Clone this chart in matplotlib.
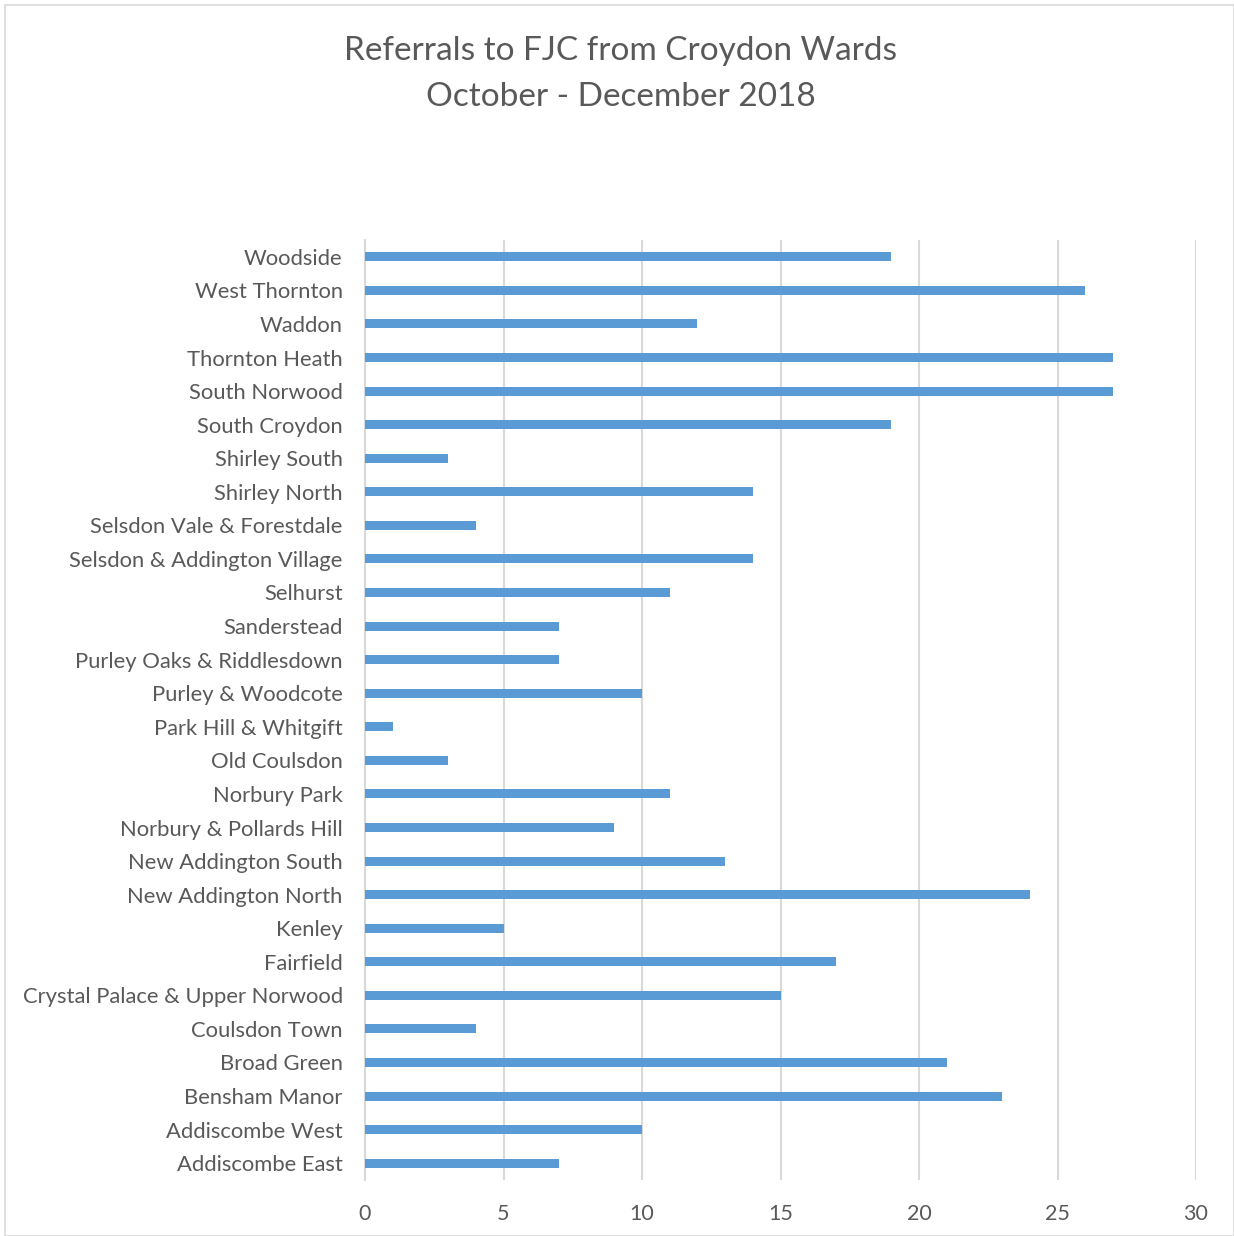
import matplotlib
matplotlib.use("Agg")
import matplotlib.pyplot as plt
from matplotlib.patches import Rectangle

plt.rcParams['font.family'] = ['Lato', 'DejaVu Sans']

wards = ["Woodside", "West Thornton", "Waddon", "Thornton Heath", "South Norwood",
         "South Croydon", "Shirley South", "Shirley North", "Selsdon Vale & Forestdale",
         "Selsdon & Addington Village", "Selhurst", "Sanderstead",
         "Purley Oaks & Riddlesdown", "Purley & Woodcote", "Park Hill & Whitgift",
         "Old Coulsdon", "Norbury Park", "Norbury & Pollards Hill", "New Addington South",
         "New Addington North", "Kenley", "Fairfield", "Crystal Palace & Upper Norwood",
         "Coulsdon Town", "Broad Green", "Bensham Manor", "Addiscombe West",
         "Addiscombe East"]
referrals = [19, 26, 12, 27, 27, 19, 3, 14, 4, 14, 11, 7, 7, 10, 1, 3, 11, 9, 13, 24,
             5, 17, 15, 4, 21, 23, 10, 7]
xticks = [0, 5, 10, 15, 20, 25, 30]

W, H = 1234, 1236
fig = plt.figure(figsize=(W / 100, H / 100), dpi=100)
ax = fig.add_axes([365 / W, 1 - 1180 / H, (1196 - 365) / W, (1180 - 240) / H])

n = len(wards)
ypos = list(range(n - 1, -1, -1))
ax.barh(ypos, referrals, height=0.27, color="#5B9BD5", zorder=3)
ax.set_ylim(-0.5, n - 0.5)
ax.set_xlim(0, 30)
ax.set_xticks(xticks)
ax.set_yticks(ypos)
ax.set_yticklabels(wards)
ax.tick_params(axis='y', length=0, pad=16, labelsize=15.8, labelcolor="#595959")
ax.tick_params(axis='x', length=0, pad=17, labelsize=15.5, labelcolor="#595959")
ax.grid(axis='x', color="#D9D9D9", linewidth=1.5, zorder=0)
for s in ["top", "right", "bottom"]:
    ax.spines[s].set_visible(False)
ax.spines["left"].set_color("#D9D9D9")
ax.spines["left"].set_linewidth(1.5)

fig.text(0.503, 1 - 51 / H, "Referrals to FJC from Croydon Wards", ha="center", va="center",
         fontsize=24, color="#595959")
fig.text(0.503, 1 - 97 / H, "October - December 2018", ha="center", va="center",
         fontsize=24, color="#595959")

fig.patches.append(Rectangle((5 / W, 0), 1 - 5 / W, 1 - 5 / H, transform=fig.transFigure,
                             fill=False, edgecolor="#D9D9D9", linewidth=1.2))

fig.savefig("out.png", dpi=100, facecolor="white")
